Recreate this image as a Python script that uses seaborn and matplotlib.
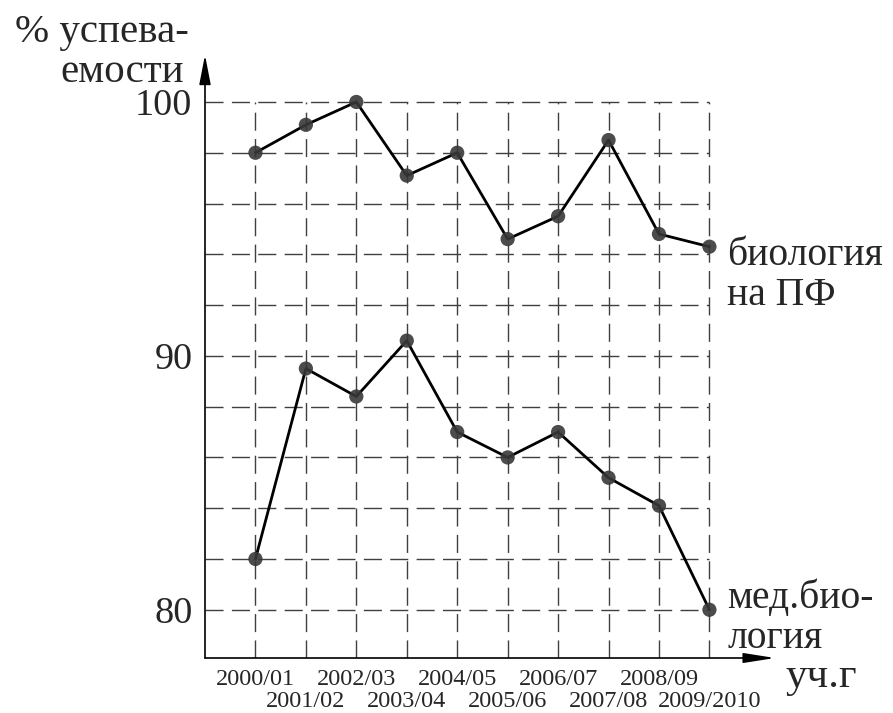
import matplotlib
matplotlib.use("Agg")
import matplotlib.pyplot as plt
import pandas as pd
import seaborn as sns

# school years on the x axis
years = ["2000/01", "2001/02", "2002/03", "2003/04", "2004/05",
         "2005/06", "2006/07", "2007/08", "2008/09", "2009/2010"]
# % успеваемости
bio_pf = [98.0, 99.1, 100.0, 97.1, 98.0, 94.6, 95.5, 98.5, 94.8, 94.3]
med_bio = [82.0, 89.5, 88.4, 90.6, 87.0, 86.0, 87.0, 85.2, 84.1, 80.0]
y_labels = [80, 90, 100]
grid_levels = [80, 82, 84, 86, 88, 90, 92, 94, 96, 98, 100]

sns.set_style("white")
plt.rcParams['font.family'] = ['Liberation Serif', 'DejaVu Serif']

W, H = 893, 713
fig = plt.figure(figsize=(W / 100, H / 100), dpi=100)
ax = fig.add_axes([205 / W, 55 / H, 570 / W, 603 / H])

idx = list(range(len(years)))
df = pd.DataFrame({"idx": idx, "bio_pf": bio_pf, "med_bio": med_bio})

ax.set_xlim(-1, 10.3)
ax.set_ylim(78.1, 101.85)

# dashed grid, stops at the last year and at 100
gc = "#3f3f3f"
ax.hlines(grid_levels, -1, idx[-1], colors=gc, lw=1.0, linestyles=(0, (13, 6)), zorder=1)
ax.vlines(idx, 78.1, grid_levels[-1], colors=gc, lw=1.0, linestyles=(0, (13, 6)), zorder=1)

for col in ["bio_pf", "med_bio"]:
    sns.lineplot(data=df, x="idx", y=col, color="black", lw=2.0, ax=ax, zorder=3)
    sns.scatterplot(data=df, x="idx", y=col, color="#383838", s=105, alpha=0.9,
                    edgecolor="none", ax=ax, zorder=4)

# series labels next to the last point
ax.annotate("биология\nна ПФ", xy=(idx[-1], bio_pf[-1]), xytext=(18, 10),
            textcoords="offset pixels", fontsize=28.5, va="top", ha="left",
            linespacing=1.12)
ax.annotate("мед.био-\nлогия", xy=(idx[-1], med_bio[-1]), xytext=(18, 30),
            textcoords="offset pixels", fontsize=28.5, va="top", ha="left",
            linespacing=1.1)

# axes with arrows instead of spines
for s in ax.spines.values():
    s.set_visible(False)
ax.annotate("", xy=(0, 1), xytext=(0, 0), xycoords="axes fraction",
            arrowprops=dict(arrowstyle="-|>,head_length=1.8,head_width=0.35",
                            color="black", lw=1.2, shrinkA=0, shrinkB=0))
ax.annotate("", xy=(1, 0), xytext=(0, 0), xycoords="axes fraction",
            arrowprops=dict(arrowstyle="-|>,head_length=1.9,head_width=0.3",
                            color="black", lw=1.2, shrinkA=0, shrinkB=0))

ax.set_yticks(y_labels)
ax.set_yticklabels([str(v) for v in y_labels])
ax.set_xticks(idx)
ax.set_xticklabels(years)
ax.tick_params(axis="y", length=0, pad=9, labelsize=27.5)
ax.tick_params(axis="x", length=0, pad=8, labelsize=17.5)
for i, t in enumerate(ax.xaxis.get_major_ticks()):
    if i % 2 == 1:
        t.set_pad(24)
ax.set_xlabel("")
ax.set_ylabel("")

fig.text(15 / W, 1 - 42 / H, "% успева-", fontsize=29.5, va="baseline", ha="left")
fig.text(60 / W, 1 - 82 / H, "емости", fontsize=29.5, va="baseline", ha="left")
fig.text(785 / W, 1 - 687 / H, "уч.г", fontsize=31, va="baseline", ha="left")

fig.savefig("out.png", dpi=100, facecolor="white")
